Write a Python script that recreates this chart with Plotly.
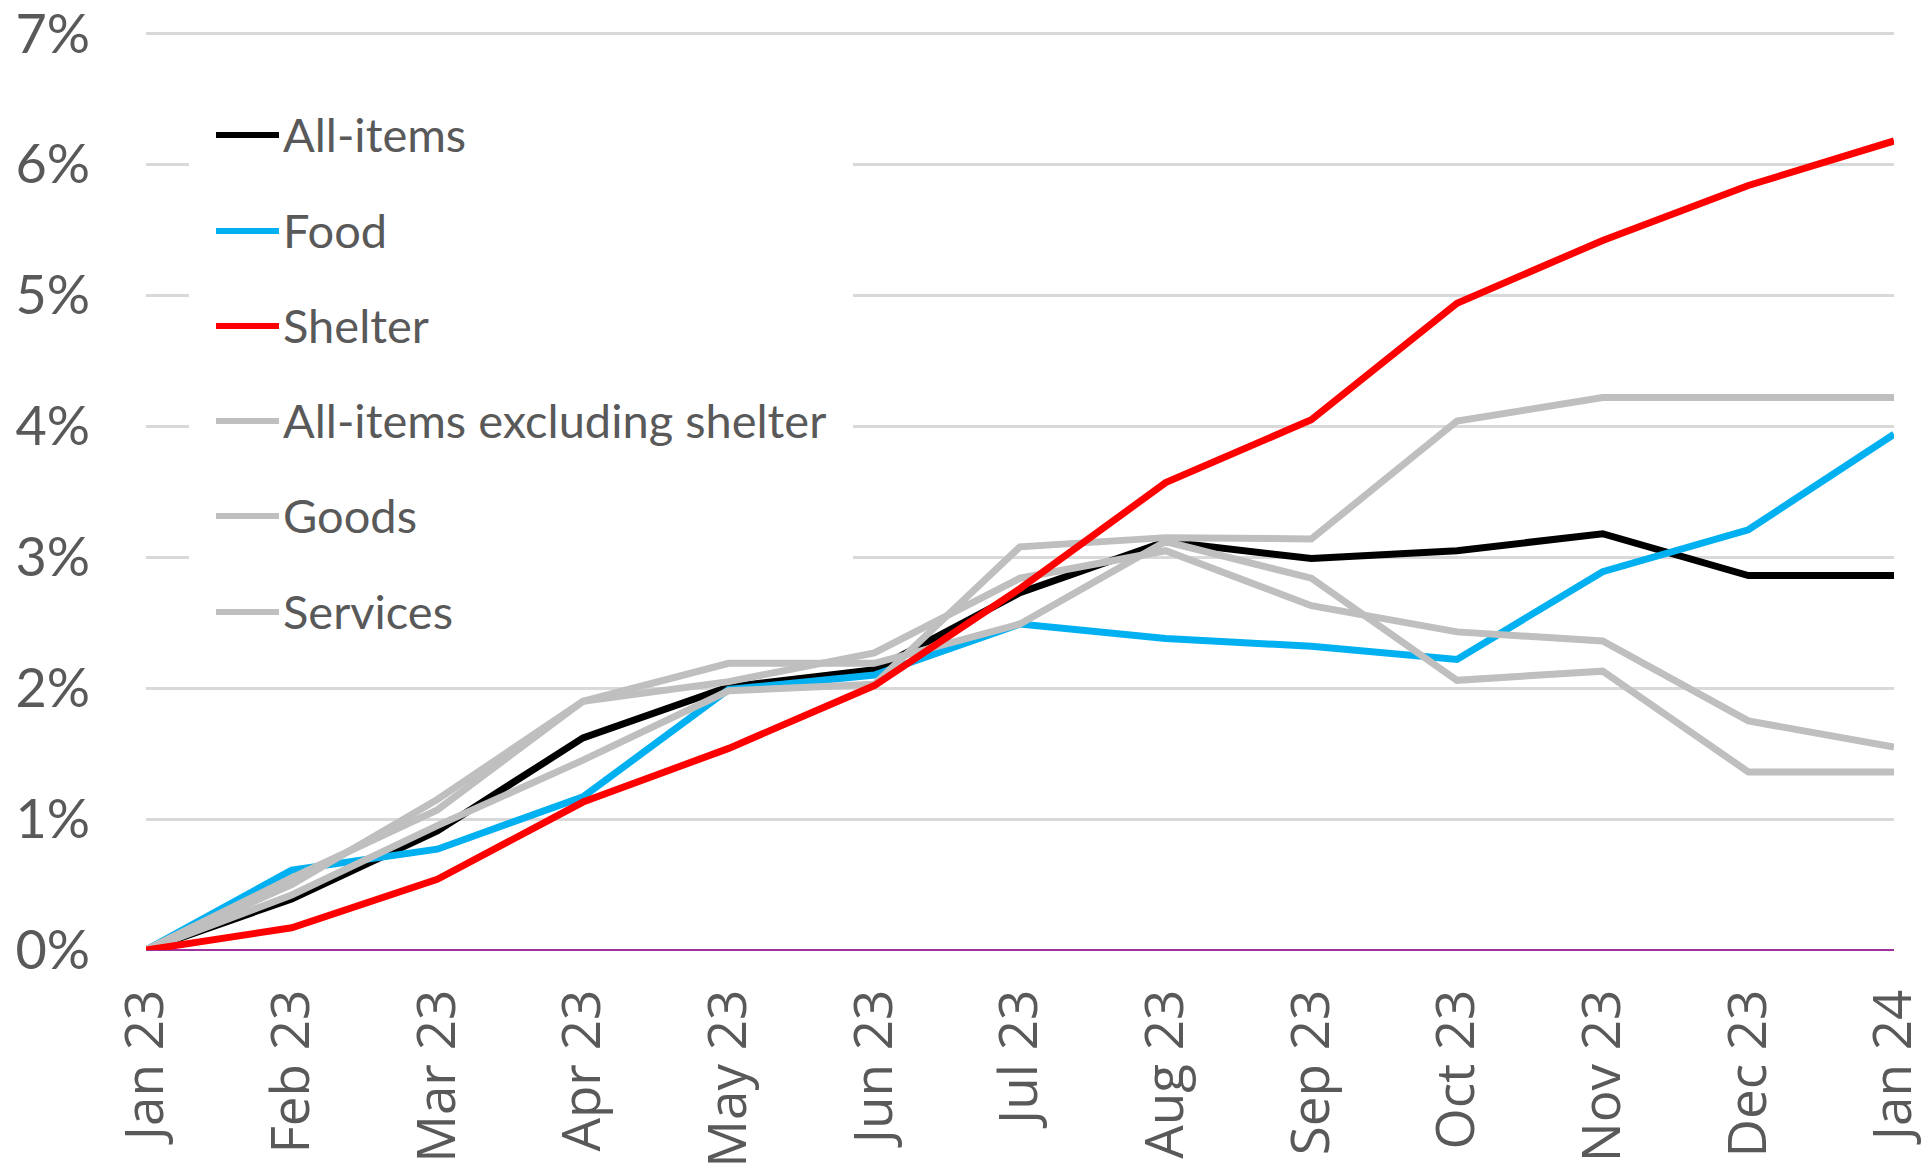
import plotly.graph_objects as go

# Cumulative price change since January 2023 (%)
months = ["Jan 23", "Feb 23", "Mar 23", "Apr 23", "May 23", "Jun 23", "Jul 23",
          "Aug 23", "Sep 23", "Oct 23", "Nov 23", "Dec 23", "Jan 24"]

all_items = [0, 0.39, 0.91, 1.62, 2.01, 2.14, 2.73, 3.12, 2.99, 3.05, 3.18, 2.86, 2.86]
food = [0, 0.61, 0.77, 1.17, 1.99, 2.10, 2.49, 2.38, 2.32, 2.22, 2.89, 3.21, 3.94]
shelter = [0, 0.17, 0.54, 1.13, 1.54, 2.02, 2.76, 3.57, 4.05, 4.94, 5.42, 5.84, 6.18]
all_items_ex_shelter = [0, 0.55, 1.07, 1.90, 2.05, 2.27, 2.84, 3.05, 2.63, 2.43, 2.36, 1.75, 1.55]
goods = [0, 0.50, 1.15, 1.90, 2.19, 2.19, 2.49, 3.12, 2.84, 2.06, 2.13, 1.36, 1.36]
services = [0, 0.42, 0.95, 1.45, 1.98, 2.03, 3.08, 3.15, 3.14, 4.04, 4.22, 4.22, 4.22]

y_ticks = [0, 1, 2, 3, 4, 5, 6, 7]
y_tick_labels = ["0%", "1%", "2%", "3%", "4%", "5%", "6%", "7%"]

series_names = ["All-items", "Food", "Shelter", "All-items excluding shelter", "Goods", "Services"]
series_values = [all_items, food, shelter, all_items_ex_shelter, goods, services]
series_colors = ["#000000", "#00b0f0", "#ff0000", "#bfbfbf", "#bfbfbf", "#bfbfbf"]

# drawing order: black and blue first, grey lines over them, red on top
draw_order = [0, 1, 3, 4, 5, 2]

W, H = 1928, 1173
ML, MR, MT, MB = 146, 34, 31, 223
text_color = "#595959"

fig = go.Figure()
for i in draw_order:
    fig.add_trace(go.Scatter(
        x=months, y=series_values[i], name=series_names[i], mode="lines",
        line=dict(color=series_colors[i], width=7),
        showlegend=False, hoverinfo="x+y+name",
    ))

# legend drawn by hand: white panel, sample lines and labels
pw = W - ML - MR
ph = H - MT - MB

def px_x(x):
    return (x - ML) / pw

def px_y(y):
    return 1 - (y - MT) / ph

shapes = [dict(type="rect", xref="paper", yref="paper",
               x0=px_x(189), x1=px_x(853), y0=px_y(650), y1=px_y(95),
               fillcolor="white", line=dict(width=0), layer="above")]
annotations = []
legend_y = [134, 230, 325, 420, 515, 611]
for name, color, ly in zip(series_names, series_colors, legend_y):
    shapes.append(dict(type="line", xref="paper", yref="paper",
                       x0=px_x(216), x1=px_x(279), y0=px_y(ly + 1), y1=px_y(ly + 1),
                       line=dict(color=color, width=6), layer="above"))
    annotations.append(dict(xref="paper", yref="paper", x=px_x(281), y=px_y(ly),
                            text=name, showarrow=False, xanchor="left", yanchor="middle",
                            font=dict(family="Lato", size=47, color=text_color)))

fig.update_layout(
    width=W, height=H,
    margin=dict(l=ML, r=MR, t=MT, b=MB, autoexpand=False),
    paper_bgcolor="white", plot_bgcolor="white",
    shapes=shapes, annotations=annotations,
    showlegend=False,
    xaxis=dict(
        type="category", range=[0, 12], showgrid=False, zeroline=False,
        showline=False, ticks="", tickangle=-90,
        tickfont=dict(family="Open Sans", size=53, color=text_color),
        ticklabelstandoff=28,
    ),
    yaxis=dict(
        range=[0, 7.02], tickvals=y_ticks, ticktext=y_tick_labels,
        showgrid=True, gridcolor="#d9d9d9", gridwidth=2.5,
        zeroline=True, zerolinecolor="#a0309e", zerolinewidth=2,
        showline=False, ticks="", ticklabeloverflow="allow",
        tickfont=dict(family="Lato", size=54, color=text_color),
        ticklabelstandoff=55,
    ),
)

fig.write_html("out.html")
